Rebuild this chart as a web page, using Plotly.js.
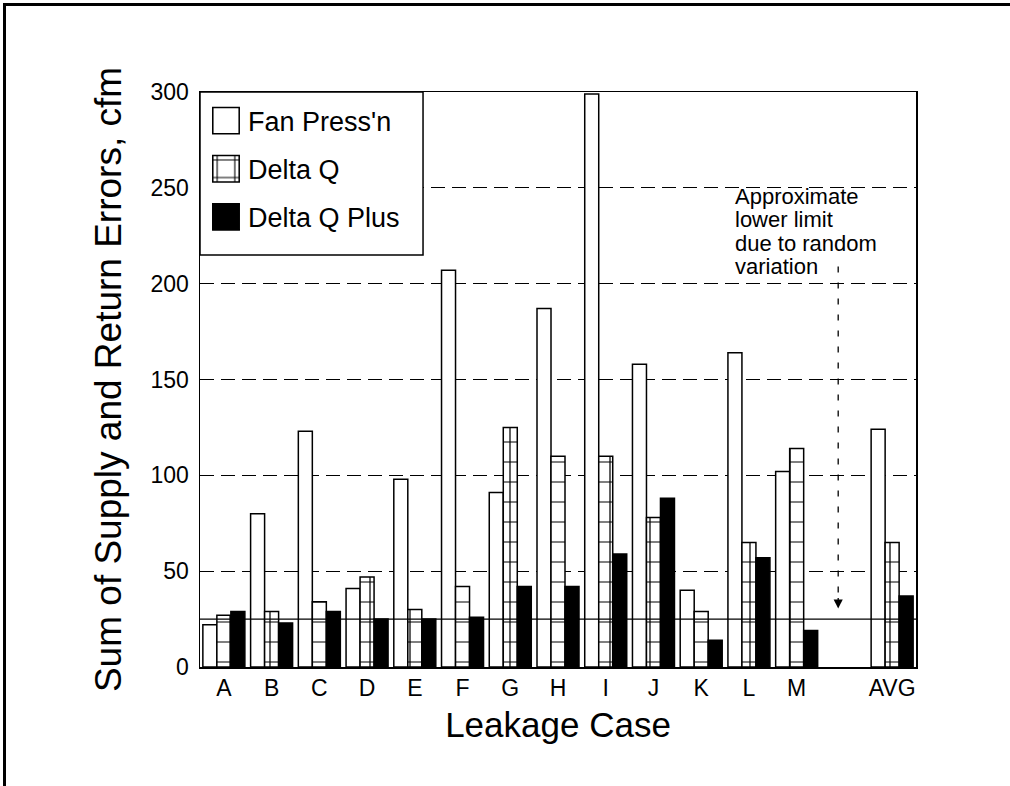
<!DOCTYPE html>
<html><head><meta charset="utf-8">
<script src="https://cdn.plot.ly/plotly-3.0.1.min.js"></script>
<style>
html,body{margin:0;padding:0;background:#fff;overflow:hidden;width:1010px;height:786px;}
#chart{position:absolute;left:0;top:0;width:1010px;height:786px;}
#topline{position:absolute;left:3px;top:3px;width:1007px;height:3px;background:#000;pointer-events:none;z-index:5;}
#leftline{position:absolute;left:3px;top:3px;width:3px;height:783px;background:#000;pointer-events:none;z-index:5;}
#rightcover{position:absolute;left:990px;top:7px;width:20px;height:779px;background:#fff;pointer-events:none;z-index:4;}
</style></head>
<body>
<div id="chart"></div>
<div id="rightcover"></div>
<div id="topline"></div>
<div id="leftline"></div>
<script>
// Leakage cases (blank slot between M and AVG)
const caseLabels = ['A','B','C','D','E','F','G','H','I','J','K','L','M','','AVG'];
const fanPressn  = [22, 80, 123, 41, 98, 207, 91, 187, 299, 158, 40, 164, 102, null, 124];
const deltaQ     = [27, 29, 34, 47, 30, 42, 125, 110, 110, 78, 29, 65, 114, null, 65];
const deltaQPlus = [29, 23, 29, 25, 25, 26, 42, 42, 59, 88, 14, 57, 19, null, 37];
const lowerLimit = 25;
const yTicks = [0, 50, 100, 150, 200, 250, 300];
const noteLines = ['Approximate', 'lower limit', 'due to random', 'variation'];

const xPos = caseLabels.map((_, i) => i);
const outline = {color: '#000', width: 1.5};

const traces = [
  {type: 'bar', name: "Fan Press'n", x: xPos, y: fanPressn, legendgroup: 'a',
   marker: {color: '#fff', line: outline}},
  {type: 'bar', name: 'Delta Q', x: xPos, y: deltaQ, legendgroup: 'b',
   marker: {color: '#fff', line: outline,
            pattern: {shape: '+', size: 20, solidity: 0.12, fgcolor: '#000', bgcolor: '#fff', fillmode: 'replace'}}},
  {type: 'bar', name: 'Delta Q Plus', x: xPos, y: deltaQPlus, legendgroup: 'c',
   marker: {color: '#000', line: outline}}
];

const noteAnnotations = noteLines.map((t, i) => ({
  xref: 'paper', yref: 'paper', x: 0.745, y: 0.819 - i * 0.0409,
  xanchor: 'left', yanchor: 'middle', align: 'left', showarrow: false,
  font: {size: 22}, text: t
}));

const layout = {
  width: 1010, height: 786,
  margin: {l: 200, r: 94, t: 92, b: 119},
  paper_bgcolor: '#fff', plot_bgcolor: '#fff',
  font: {family: 'Liberation Sans, Arial, sans-serif', color: '#000'},
  barmode: 'group', bargap: 0.12, bargroupgap: 0,
  showlegend: true,
  legend: {x: 0, y: 0.992, xanchor: 'left', yanchor: 'top',
           bgcolor: 'rgba(0,0,0,0)', borderwidth: 0,
           font: {size: 27, color: '#000'}, tracegroupgap: 10,
           traceorder: 'grouped', itemwidth: 38},
  xaxis: {range: [-0.5, 14.5], tickmode: 'array', tickvals: xPos, ticktext: caseLabels,
          showgrid: false, zeroline: false, ticks: '', showline: true, mirror: true,
          linecolor: '#000', linewidth: 1.5, tickfont: {size: 23},
          title: {text: 'Leakage Case', font: {size: 35}, standoff: 12}},
  yaxis: {range: [0, 300], tickmode: 'array', tickvals: yTicks,
          showgrid: true, gridcolor: '#000', gridwidth: 1.3, griddash: '14px,7px',
          zeroline: false, ticks: '', showline: true, mirror: true, ticklabelstandoff: 5,
          linecolor: '#000', linewidth: 1.5, tickfont: {size: 23},
          title: {text: 'Sum of Supply and Return Errors, cfm', font: {size: 37}, standoff: 17}},
  shapes: [
    {type: 'rect', xref: 'paper', yref: 'paper', x0: 0, x1: 0.3115, y0: 0.7165, y1: 1,
     fillcolor: '#fff', line: {color: '#000', width: 1.5}, layer: 'above'},
    {type: 'line', xref: 'paper', yref: 'y', x0: 0, x1: 1, y0: lowerLimit, y1: lowerLimit,
     line: {color: '#000', width: 1.2}, layer: 'above'},
    {type: 'line', xref: 'x', yref: 'y', x0: 12.87, x1: 12.87, y0: 209, y1: 36,
     line: {color: '#000', width: 1.3, dash: '6px,10px'}, layer: 'above'}
  ],
  annotations: noteAnnotations.concat([
    {xref: 'x', yref: 'y', x: 12.87, y: 30.5, ax: 0, ay: -12, showarrow: true,
     arrowhead: 2, arrowsize: 1.4, arrowwidth: 1.3, arrowcolor: '#000', text: ''}
  ])
};

Plotly.newPlot('chart', traces, layout, {displayModeBar: false, staticPlot: true}).then(() => {
  document.querySelectorAll('#chart .legendpoints path').forEach(p => {
    p.setAttribute('transform', 'translate(26,0) scale(2.2)');
    p.style.strokeWidth = '0.7px';
  });
});
</script>
</body></html>
